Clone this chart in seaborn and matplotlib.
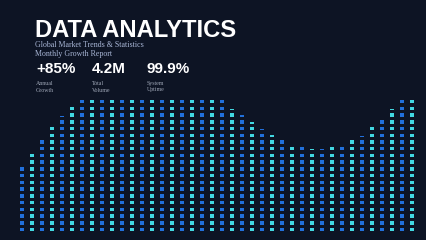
import numpy as np
import pandas as pd
import matplotlib
matplotlib.use("Agg")
import matplotlib.pyplot as plt
import seaborn as sns

# ---- data ----
heights = [10, 12, 14, 16, 17.3, 19, 20, 20, 20, 20,
           20, 20, 20, 20, 20, 20, 20, 20, 20, 20,
           20, 18.4, 17.4, 16.4, 15.4, 14.5, 14, 13, 13, 12.4,
           12.3, 13, 13, 14, 14.4, 16, 17, 18.3, 20, 20]
title = "DATA ANALYTICS"
subtitle_lines = ["Global Market Trends & Statistics", "Monthly Growth Report"]
stat_values = ["+85%", "4.2M", "99.9%"]
stat_labels = ["Annual\nGrowth", "Total\nVolume", "System\nUptime"]

BG = "#0d1424"
BLUE = "#2170dc"
CYAN = "#42d8e2"

sns.set_theme(style="dark", rc={"axes.facecolor": BG, "figure.facecolor": BG})
plt.rcParams['font.family'] = ['Liberation Sans', 'DejaVu Sans']

# long table of cells
rows = []
for i, h in enumerate(heights):
    n_full = int(np.floor(h + 1e-9))
    for r in range(n_full):
        rows.append((i, r, 1.0))
    frac = h - n_full
    if frac > 1e-6:
        rows.append((i, n_full, frac))
cells = pd.DataFrame(rows, columns=["col", "row", "frac"])
cells["color"] = np.where(cells["col"] % 2 == 0, BLUE, CYAN)

W, H = 427, 240
fig = plt.figure(figsize=(W / 100, H / 100), dpi=100)
ax = fig.add_axes([0, 0, 1, 1])
ax.set_facecolor(BG)

sq_w = 0.46
sq_h = 0.52
ax.bar(cells["col"], cells["frac"] * sq_h, width=sq_w,
       bottom=cells["row"] + 0.5 - sq_h / 2, color=cells["color"],
       linewidth=0)

ax.set_xlim(-2.2, 40.5)
ax.set_ylim(-1.06, 34.6)
ax.axis("off")
sns.despine(ax=ax, left=True, bottom=True)

def fy(px):
    return 1 - px / H

fig.text(35 / W, fy(36.7), title, color="white", fontsize=17.1,
         fontweight="bold", family=["Liberation Sans", "DejaVu Sans"], va="baseline")
fig.text(35 / W, fy(47.3), subtitle_lines[0], color="#aab8d8", fontsize=5.7,
         family=["Liberation Serif", "DejaVu Serif"], va="baseline")
fig.text(35 / W, fy(56.5), subtitle_lines[1], color="#aab8d8", fontsize=5.7,
         family=["Liberation Serif", "DejaVu Serif"], va="baseline")

xs = [36, 91.5, 147]
for x, v, lab in zip(xs, stat_values, stat_labels):
    fig.text(x / W, fy(72.7), v, color="white", fontsize=11, fontweight="bold",
             family=["Liberation Sans", "DejaVu Sans"], va="baseline")
    l1, l2 = lab.split("\n")
    fig.text(x / W, fy(85.3), l1, color="#a0a8b8", fontsize=4.2,
             family=["Liberation Serif", "DejaVu Serif"], va="baseline")
    fig.text(x / W, fy(91.5), l2, color="#a0a8b8", fontsize=4.2,
             family=["Liberation Serif", "DejaVu Serif"], va="baseline")

fig.savefig("out.png", dpi=100, facecolor=BG)
